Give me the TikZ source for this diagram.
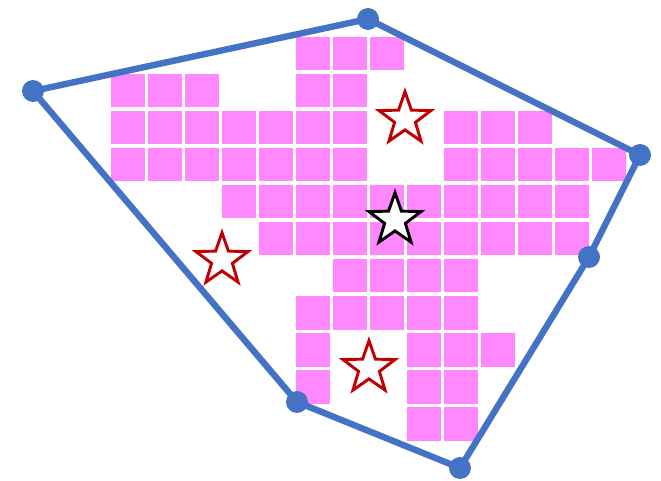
\documentclass[tikz,border=0pt]{standalone}
\usetikzlibrary{shapes.geometric}
\definecolor{hullblue}{HTML}{4472C4}
\definecolor{cellpink}{HTML}{FF88FF}
\definecolor{starred}{HTML}{C00000}

\begin{document}
\begin{tikzpicture}[x=0.75pt,y=-0.75pt,
    cell/.style={fill=cellpink},
    hull/.style={draw=hullblue,line width=4.8pt,line join=round},
    corner/.style={circle,fill=hullblue,inner sep=0pt,minimum size=16.5pt},
    seed/.style={star,star points=5,star point ratio=2.5,draw=#1,fill=white,line width=2.2pt,minimum size=41pt,inner sep=0pt}]
  \useasboundingbox (0,0) rectangle (661,481);
  % grid cells, row/columns
  \foreach \r/\cols in {0/{5,6,7},1/{0,1,2,5,6},2/{0,1,2,3,4,5,6,9,10,11},3/{0,1,2,3,4,5,6,9,10,11,12,13},4/{3,...,12},5/{4,...,12},6/{6,...,9},7/{5,...,9},8/{5,8,9,10},9/{5,8,9},10/{8,9}}{
    \foreach \c in \cols {\fill[cell] (111+37*\c,37+37*\r) rectangle ++(33.5,33.5);}}
  % hull
  \coordinate (a) at (33,91);
  \coordinate (b) at (368,19);
  \coordinate (c) at (640,155);
  \coordinate (d) at (589,257);
  \coordinate (e) at (460,468);
  \coordinate (f) at (297,402);
  \draw[hull] (a) -- (b) -- (c) -- (d) -- (e) -- (f) -- cycle;
  \foreach \p in {a,...,f}{\node[corner] (dot\p) at (\p) {};}
  % stars
  \node[seed=starred] (s1) at (405,119) {};
  \node[seed=black] (s2) at (395,220) {};
  \node[seed=starred] (s3) at (222,260) {};
  \node[seed=starred] (s4) at (369,368) {};
\end{tikzpicture}
\end{document}
